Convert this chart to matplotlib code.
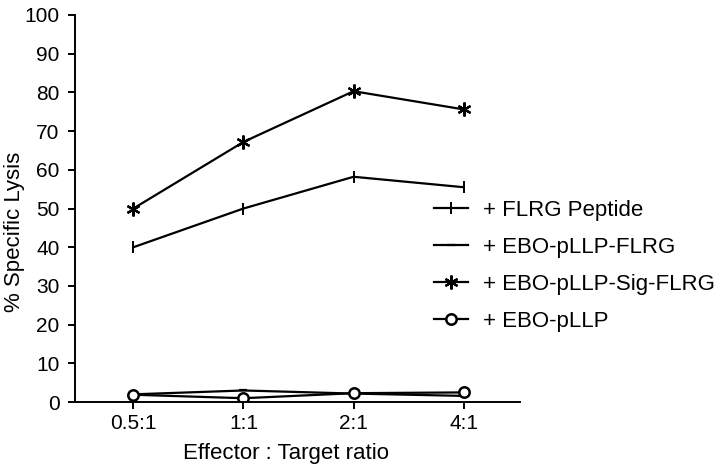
import numpy as np
import matplotlib
matplotlib.use('Agg')
import matplotlib.pyplot as plt

plt.rcParams['font.family'] = ['Liberation Sans', 'DejaVu Sans']

ratios = ["0.5:1", "1:1", "2:1", "4:1"]
flrg_peptide = [40, 50, 58.2, 55.5]
ebo_flrg = [2.0, 3.0, 2.2, 1.6]
ebo_sig_flrg = [50, 67.2, 80.3, 75.6]
ebo_pllp = [1.9, 1.0, 2.3, 2.5]

x = np.arange(len(ratios))

fig = plt.figure(figsize=(7.21, 4.67), dpi=100)
ax = fig.add_axes([0.104, 0.139, 0.617, 0.829])

ax.plot(x, flrg_peptide, color='black', lw=1.6, marker='|', ms=8, mew=1.4,
        label='+ FLRG Peptide')
ax.plot(x, ebo_flrg, color='black', lw=1.6, marker='_', ms=6, mew=1.6,
        label='+ EBO-pLLP-FLRG')
ax.plot(x, ebo_sig_flrg, color='black', lw=1.6, marker=(6, 2, 0), ms=10, mew=1.6,
        label='+ EBO-pLLP-Sig-FLRG')
ax.plot(x, ebo_pllp, color='black', lw=1.6, marker='o', ms=7.5, mew=1.8,
        mfc='white', label='+ EBO-pLLP')

ax.set_xlim(-0.53, 3.51)
ax.set_ylim(0, 100)
ax.set_xticks(x)
ax.set_xticklabels(ratios)
ax.set_yticks(np.arange(0, 101, 10))
ax.spines['top'].set_visible(False)
ax.spines['right'].set_visible(False)
for s in ['left', 'bottom']:
    ax.spines[s].set_linewidth(1.4)
ax.tick_params(direction='out', length=5, width=1.4, labelsize=15)
ax.tick_params(axis='y', pad=6)

ax.set_xlabel('Effector : Target ratio', fontsize=16)
ax.xaxis.set_label_coords(0.474, -0.105)
ax.set_ylabel('% Specific Lysis', fontsize=16)
ax.yaxis.set_label_coords(-0.112, 0.44)

fig.legend(loc='center left', bbox_to_anchor=(0.602, 0.43), frameon=False,
           fontsize=16, handlelength=1.55, handletextpad=0.65, labelspacing=0.72,
           borderaxespad=0, borderpad=0)

fig.savefig('out.png', dpi=100)
